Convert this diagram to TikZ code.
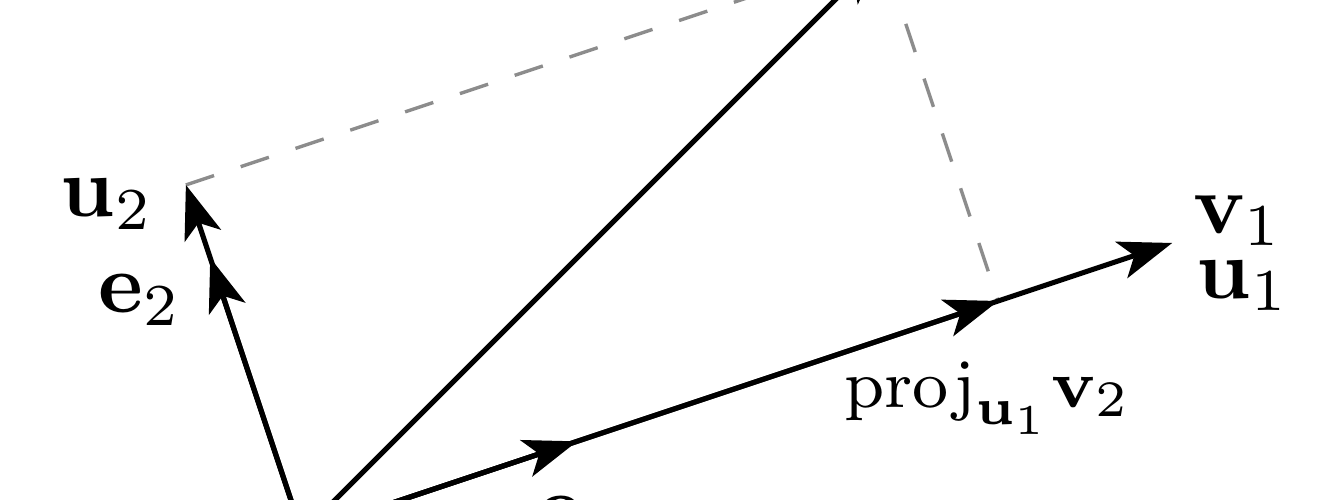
\documentclass[tikz,border=0pt]{standalone}
\usetikzlibrary{arrows.meta}
\begin{document}
\begin{tikzpicture}[scale=1.2,
  vec/.style={semithick,-{Stealth[length=6.3pt,width=4.5pt,inset=1.6pt]}},
  guide/.style={thin,gray!90,dash pattern=on 3.5pt off 3.3pt}]
\useasboundingbox (-1.041,0.114) rectangle (3.510,1.838);

\coordinate (o) at (0,0);
\coordinate (v1) at (3,1);
\coordinate (v2) at (2,2);
\coordinate (p) at (2.4,0.8);
\coordinate (u2) at (-0.4,1.2);
\coordinate (e1) at (0.9487,0.3162);
\coordinate (e2) at (-0.3162,0.9487);

\draw[guide] (u2) -- (v2) -- (p);
\draw[vec] (o) -- (v2);
\draw[vec] (o) -- (v1);
\draw[vec] (o) -- (p);
\draw[vec] (o) -- (e1);
\draw[vec] (o) -- (u2);
\draw[vec] (o) -- (e2);

\node[anchor=base] (lv1) at (3.228,1.034) {$\mathbf{v}_1$};
\node[anchor=base] (lu1) at (3.245,0.810) {$\mathbf{u}_1$};
\node[anchor=base] (lu2) at (-0.672,1.090) {$\mathbf{u}_2$};
\node[anchor=base] (le2) at (-0.559,0.759) {$\mathbf{e}_2$};
\node[anchor=base] (le1) at (0.955,-0.005) {$\mathbf{e}_1$};
\node[anchor=base west] (lv2) at (2.04,1.915) {$\mathbf{v}_2$};
\node[anchor=base] (lp) at (2.365,0.434) {\footnotesize $\mathrm{proj}_{\mathbf{u}_1}\mathbf{v}_2$};
% \node at (0,0) {$O$};
\end{tikzpicture}
\end{document}
